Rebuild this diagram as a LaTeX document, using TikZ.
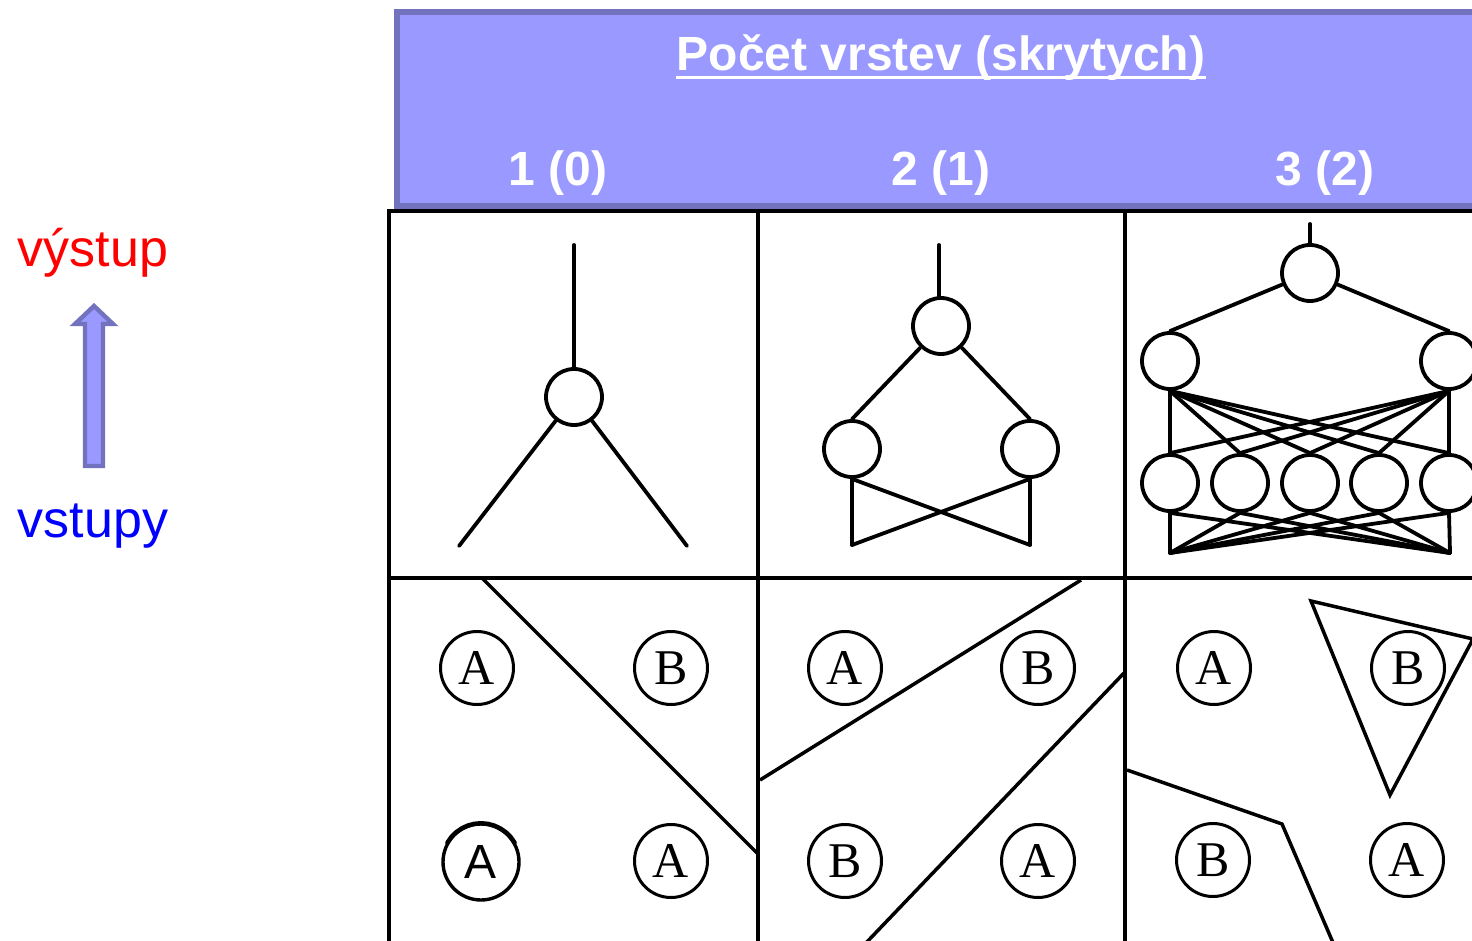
\documentclass[tikz,border=0pt]{standalone}
\usepackage{fontspec}
\setmainfont{Liberation Serif}
\setsansfont{Liberation Sans}
\definecolor{hdrfill}{RGB}{153,153,255}
\definecolor{hdredge}{RGB}{114,114,190}
\begin{document}
\begin{tikzpicture}[x=0.5pt,y=-0.5pt,
  gridline/.style={line width=1.6pt,black},
  neuron/.style={circle,draw,line width=1.9pt,minimum size=28pt,inner sep=0pt},
  wire/.style={line width=1.9pt,line cap=round},
  sample/.style={circle,draw,line width=1.5pt,minimum size=36.5pt,inner sep=0pt,
    font=\fontsize{25}{25}\selectfont},
  border/.style={line width=1.75pt,line join=miter},
  hdrtext/.style={text=white,font=\sffamily\bfseries\fontsize{24}{24}\selectfont,
    inner sep=0pt,anchor=base},
  sidetext/.style={font=\sffamily\fontsize{26}{26}\selectfont,inner sep=0pt,anchor=base},
]
\clip (0,0) rectangle (1472,941);

% header band
\draw[fill=hdrfill,draw=hdredge,line width=3pt] (397,12) rectangle (1495,206);
\node[hdrtext] (title) at (941,71) {Počet vrstev (skrytych)};
\draw[white,line width=1.5pt] ([yshift=-3.5pt]title.base west) -- ([yshift=-3.5pt]title.base east);
\node[hdrtext] (col1) at (558,186) {1 (0)};
\node[hdrtext] (col2) at (941,186) {2 (1)};
\node[hdrtext] (col3) at (1325,186) {3 (2)};

% table grid
\draw[gridline] (389,211) -- (1480,211);
\draw[gridline] (389,578) -- (1480,578);
\draw[gridline] (389,209.5) -- (389,950);
\draw[gridline] (758,211) -- (758,950);
\draw[gridline] (1125,211) -- (1125,950);

% side legend
\node[sidetext,text=red] (out) at (93,267) {výstup};
\node[sidetext,text=blue] (in) at (93,537) {vstupy};
\draw[fill=hdrfill,draw=hdredge,line width=2.2pt,line join=miter]
  (85,466) -- (85,324) -- (75,324) -- (94,306) -- (113,324) -- (103,324) -- (103,466) -- cycle;

% network with one layer
\node[neuron] (n1) at (574,397) {};
\coordinate (o1) at (574,245);
\coordinate (a1) at (459,546);
\coordinate (b1) at (687,546);
\draw[wire] (o1) -- (n1.north);
\draw[wire] (n1) -- (a1);
\draw[wire] (n1) -- (b1);

% network with two layers
\node[neuron] (t2) at (941,326) {};
\node[neuron] (l2) at (852,449) {};
\node[neuron] (r2) at (1030,449) {};
\coordinate (o2) at (939,245);
\coordinate (a2) at (852,545);
\coordinate (b2) at (1030,545);
\draw[wire] (o2) -- (o2 |- t2.north);
\draw[wire] (t2) -- (l2.north);
\draw[wire] (t2) -- (r2.north);
\draw[wire] (l2.south) -- (a2);
\draw[wire] (l2.south) -- (b2);
\draw[wire] (r2.south) -- (a2);
\draw[wire] (r2.south) -- (b2);

% network with three layers
\node[neuron] (t3) at (1310,273) {};
\node[neuron] (m31) at (1170,361) {};
\node[neuron] (m32) at (1449,361) {};
\foreach \i/\x in {1/1170,2/1240,3/1310,4/1379,5/1449}
  \node[neuron] (b3\i) at (\x,483) {};
\coordinate (o3) at (1310,224);
\coordinate (i31) at (1170,553);
\coordinate (i32) at (1450,553);
\draw[wire] (o3) -- (t3.north);
\draw[wire] (t3) -- (m31.north);
\draw[wire] (t3) -- (m32.north);
\foreach \i in {1,...,5} {
  \draw[wire] (m31.south) -- (b3\i.north);
  \draw[wire] (m32.south) -- (b3\i.north);
  \draw[wire] (b3\i.south) -- (i31);
  \draw[wire] (b3\i.south) -- (i32);
}

% samples, first column
\node[sample] (p11) at (477,668) {A};
\node[sample] (p12) at (671,668) {B};
\node[sample,minimum size=38pt,line width=1.7pt,font=\sffamily\fontsize{24}{24}\selectfont] (p13) at (481,862) {A};
\draw[line width=2.2pt,line cap=round,line join=round]
  ([shift={(150:19.4pt)}]p13.center)
  \foreach \a in {140,130,...,30} {-- ([shift={(\a:19.4pt)}]p13.center)};
\node[sample] (p14) at (671,861) {A};
\draw[border] (481,577) -- (757,853);

% samples, second column
\node[sample] (p21) at (845,668) {A};
\node[sample] (p22) at (1038,668) {B};
\node[sample] (p23) at (845,861) {B};
\node[sample] (p24) at (1038,861) {A};
\draw[border] (1081,580) -- (760,780);
\draw[border] (1124,673) -- (864,945);

% samples, third column
\node[sample] (p31) at (1214,668) {A};
\node[sample] (p32) at (1408,668) {B};
\node[sample] (p33) at (1213,860) {B};
\node[sample] (p34) at (1407,860) {A};
\draw[border] (1311,601) -- (1473,639) -- (1390,795) -- cycle;
\draw[border] (1127,770) -- (1282,824) -- (1334,945);
\end{tikzpicture}
\end{document}
